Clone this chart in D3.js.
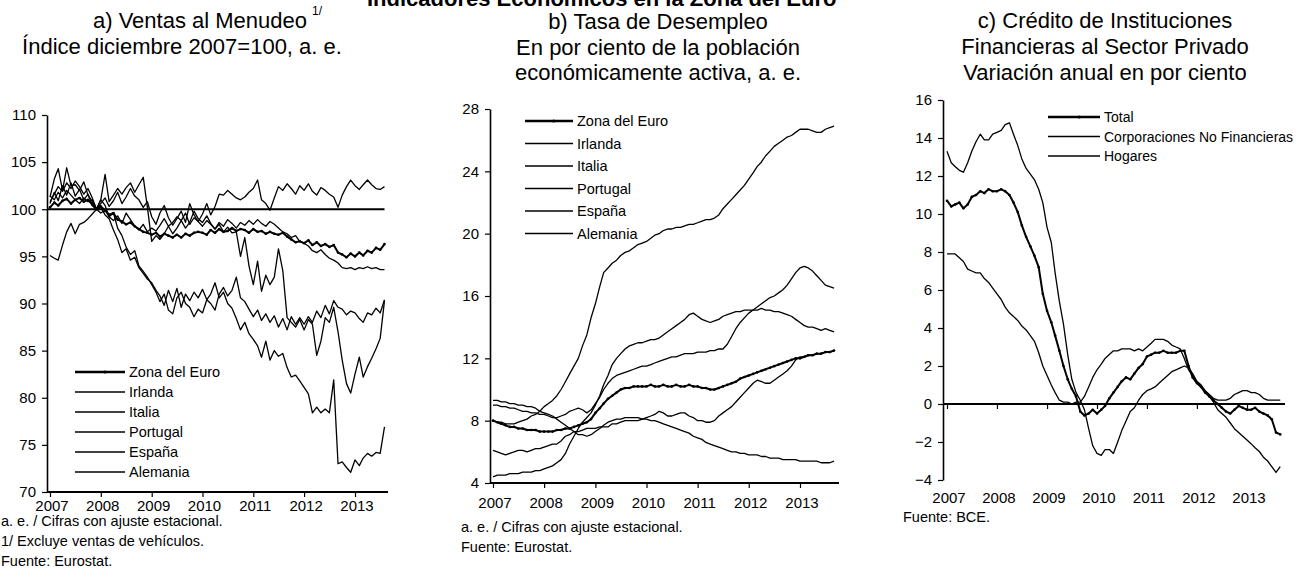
<!DOCTYPE html>
<html>
<head>
<meta charset="utf-8">
<script src="https://cdn.jsdelivr.net/npm/d3@7"></script>
<style>
  body { margin: 0; background: #fff; }
  svg text { font-family: "Liberation Sans", Arial, Helvetica, sans-serif; fill: #000; }
</style>
</head>
<body>
<svg id="chart" width="1309" height="577"></svg>
<script>
// monthly series, first value = January 2007
const years = [2007, 2008, 2009, 2010, 2011, 2012, 2013];

// a) Ventas al menudeo, indice dic 2007 = 100
const ventasNombres = ["Zona del Euro", "Irlanda", "Italia", "Portugal", "España", "Alemania"];
const ventasZonaEuro = [
  100.2, 100.7, 100.4, 100.9, 101.1, 100.6, 101.0, 101.2, 100.8, 101.0, 100.5, 100.0,
  100.3, 99.9, 99.4, 99.6, 98.9, 98.7, 98.4, 98.6, 98.2, 97.9, 97.6, 97.5,
  97.3, 97.5, 97.1, 97.4, 97.2, 97.0, 97.3, 97.0, 97.4, 97.2, 97.5, 97.6,
  97.5, 97.3, 97.8, 97.5, 97.9, 97.6, 97.7, 98.0, 97.7, 97.9, 97.8, 97.5,
  97.9, 97.6, 97.7, 97.4, 97.6, 97.4, 97.3, 97.5, 97.1, 96.8, 96.5, 96.6,
  96.4, 96.7, 96.2, 96.5, 96.1, 96.3, 96.0, 96.2, 95.4, 95.2, 94.9, 95.3,
  95.0, 95.4, 95.1, 95.6, 95.4, 95.9, 95.7, 96.3];
const ventasIrlanda = [
  101.3, 103.2, 104.3, 102.0, 104.4, 102.5, 102.6, 102.0, 102.9, 101.5, 100.8, 100.0,
  101.0, 100.4, 99.2, 99.6, 98.0, 97.2, 96.0, 95.2, 95.6, 94.0, 93.4, 92.8,
  92.0, 91.2, 90.2, 91.0, 89.3, 88.9, 90.6, 91.2, 90.0, 89.6, 88.6, 89.4,
  89.0, 90.4, 90.0, 89.3, 91.0, 91.7, 90.8, 91.4, 92.8, 90.6, 90.2, 89.4,
  88.6, 89.3, 88.2, 88.9, 88.0, 88.7, 87.5, 88.4, 87.2, 88.6, 87.8, 88.5,
  87.8, 88.6, 88.0, 89.2, 88.5, 89.8, 88.9, 90.3, 89.6, 89.4, 88.8, 89.2,
  89.0, 88.4, 88.0, 89.0, 88.8, 89.5, 89.0, 90.4];
const ventasItalia = [
  101.4, 101.0, 101.8, 101.2, 102.0, 101.5, 101.0, 100.6, 101.2, 100.8, 101.0, 100.0,
  99.6, 99.9, 99.2, 98.8, 99.3, 98.5, 99.6, 98.9, 98.2, 97.8, 98.4, 97.6,
  98.0, 97.7, 98.3, 99.0, 98.2, 98.6, 99.2, 98.8, 99.6, 98.4, 99.1, 98.7,
  98.2, 98.8, 98.4, 97.9, 98.6, 98.2, 98.9, 98.5, 98.0, 98.6, 98.3, 98.8,
  98.4, 98.9, 98.5, 98.2, 98.7, 98.4, 98.0, 97.6, 97.4, 97.0, 97.2, 96.6,
  96.4, 96.1, 95.6, 95.4, 95.7, 95.2, 94.8, 94.6, 94.3, 93.8, 93.7, 93.8,
  93.6, 93.8, 93.7, 93.9, 93.7, 93.8, 93.6, 93.6];
const ventasPortugal = [
  100.8, 101.6, 102.4, 101.9, 102.8, 102.2, 103.0, 102.4, 101.6, 102.2, 101.2, 100.0,
  101.0, 103.7, 100.8, 101.5, 102.2, 101.6, 102.3, 102.8, 101.8, 102.6, 103.4, 100.2,
  96.6, 97.2, 96.8, 97.4, 98.2, 97.4, 98.0, 98.8, 98.0, 98.6, 99.8, 99.0,
  98.6, 99.3, 98.5, 97.9, 98.4, 97.6, 98.1, 97.5, 97.6, 95.0, 97.0, 94.0,
  92.0, 94.5, 91.3, 93.0, 92.0, 92.8, 95.8, 93.5, 88.5, 88.0, 87.5, 88.3,
  87.2, 88.3, 87.8, 84.5, 86.0, 88.5, 88.0, 89.6, 87.0, 84.0, 81.5, 80.5,
  82.5, 84.3, 82.2, 83.3, 84.2, 85.2, 86.3, 90.3];
const ventasEspana = [
  100.6, 101.8, 100.9, 102.5, 101.5, 102.8, 101.4, 102.1, 101.0, 101.6, 100.4, 100.0,
  100.2, 99.4, 99.0, 97.8, 96.8, 95.4, 95.8, 94.6, 94.9, 93.8, 93.2, 92.6,
  92.2, 91.4, 90.8, 89.8, 91.4, 90.2, 91.6, 89.6, 91.0, 90.3, 91.2, 90.6,
  91.5, 90.4, 91.0, 92.2, 90.6, 91.2, 90.0, 89.5, 88.4, 87.2, 88.0, 86.8,
  86.2, 85.5, 84.3, 86.0, 84.0, 85.0, 84.4, 84.7, 83.2, 82.2, 82.4, 81.8,
  81.1, 80.4, 78.4, 79.0, 78.4, 78.8, 78.4, 81.9, 73.0, 73.2, 72.6, 72.1,
  73.4, 72.8, 73.6, 74.1, 73.8, 74.2, 74.1, 76.9];
const ventasAlemania = [
  95.1, 94.8, 94.6, 96.2, 97.6, 98.5, 97.4, 98.4, 98.6, 99.0, 99.5, 100.0,
  100.6, 101.2, 100.3, 100.9, 101.8, 100.6, 101.3, 102.2, 101.4, 101.0, 100.2, 100.8,
  99.2, 98.4, 99.6, 100.4, 99.1, 98.3, 99.0, 99.8, 98.6, 100.6, 99.4, 98.7,
  99.5, 100.6, 99.4, 100.3, 101.6, 101.5, 102.0, 101.6, 101.2, 101.0, 101.3, 101.8,
  102.2, 103.1, 101.0, 100.6, 99.9, 101.2, 102.4, 102.0, 102.7, 102.2, 101.6, 102.5,
  102.0, 102.7, 101.9, 101.5, 102.3, 102.0, 101.6, 101.3, 100.2, 101.5, 102.4, 103.1,
  102.5, 102.1, 102.6, 103.1, 102.6, 102.2, 102.1, 102.4];
const ventasTicks = [70, 75, 80, 85, 90, 95, 100, 105, 110];

// b) Tasa de desempleo, por ciento
const desempleoZonaEuro = [
  8.0, 7.9, 7.8, 7.7, 7.6, 7.6, 7.5, 7.5, 7.4, 7.4, 7.4, 7.3,
  7.3, 7.3, 7.3, 7.4, 7.4, 7.5, 7.5, 7.6, 7.7, 7.8, 7.9, 8.1,
  8.5, 8.8, 9.1, 9.4, 9.6, 9.8, 10.0, 10.1, 10.1, 10.2, 10.2, 10.2,
  10.2, 10.3, 10.2, 10.2, 10.3, 10.2, 10.2, 10.3, 10.2, 10.2, 10.3, 10.2,
  10.2, 10.1, 10.1, 10.0, 10.0, 10.1, 10.2, 10.3, 10.4, 10.5, 10.7, 10.8,
  10.9, 11.0, 11.1, 11.2, 11.3, 11.4, 11.5, 11.6, 11.7, 11.8, 11.9, 12.0,
  12.0, 12.1, 12.2, 12.2, 12.3, 12.3, 12.4, 12.4, 12.5];
const desempleoIrlanda = [
  4.4, 4.5, 4.5, 4.5, 4.6, 4.6, 4.6, 4.7, 4.7, 4.7, 4.8, 4.8,
  4.9, 5.0, 5.1, 5.3, 5.5, 5.9, 6.5, 7.0, 7.5, 7.9, 8.2, 8.5,
  9.0, 9.6, 10.3, 10.9, 11.6, 12.0, 12.3, 12.6, 12.8, 12.9, 13.0, 13.0,
  13.1, 13.2, 13.2, 13.3, 13.5, 13.7, 13.9, 14.1, 14.3, 14.5, 14.8, 14.9,
  14.7, 14.5, 14.4, 14.3, 14.4, 14.5, 14.7, 14.8, 14.9, 15.0, 15.0, 15.1,
  15.1, 15.1, 15.1, 15.2, 15.1, 15.1, 15.0, 15.0, 14.9, 14.8, 14.7, 14.5,
  14.3, 14.1, 14.0, 14.0, 13.9, 13.8, 13.9, 13.8, 13.7];
const desempleoItalia = [
  6.1, 6.0, 5.9, 5.8, 5.9, 6.0, 6.1, 6.1, 6.0, 6.1, 6.2, 6.2,
  6.3, 6.4, 6.5, 6.5, 6.7, 7.0, 7.1, 7.3, 7.3, 7.4, 7.5, 7.5,
  7.5, 7.6, 7.6, 7.6, 7.8, 7.8, 7.9, 8.0, 8.0, 8.0, 8.0, 8.1,
  8.2, 8.3, 8.4, 8.6, 8.5, 8.3, 8.3, 8.4, 8.5, 8.5, 8.3, 8.2,
  8.0, 8.0, 7.9, 7.9, 8.0, 8.3, 8.5, 8.7, 8.9, 9.2, 9.5, 9.8,
  10.1, 10.4, 10.6, 10.5, 10.4, 10.4, 10.6, 10.8, 11.0, 11.2, 11.5, 11.9,
  12.1, 12.1, 12.2, 12.2, 12.3, 12.3, 12.4, 12.4, 12.5];
const desempleoPortugal = [
  9.0, 9.0, 8.9, 8.9, 8.8, 8.8, 8.7, 8.6, 8.6, 8.5, 8.5, 8.4,
  8.4, 8.3, 8.2, 8.2, 8.3, 8.4, 8.6, 8.7, 8.8, 8.7, 8.5, 8.7,
  9.1, 9.5, 10.0, 10.4, 10.7, 10.9, 11.0, 11.1, 11.2, 11.3, 11.4, 11.5,
  11.5, 11.6, 11.7, 11.8, 11.9, 12.0, 12.1, 12.1, 12.2, 12.3, 12.3, 12.3,
  12.4, 12.4, 12.4, 12.5, 12.5, 12.6, 12.6, 12.9, 13.4, 13.9, 14.3, 14.6,
  14.9, 15.1, 15.3, 15.5, 15.7, 15.9, 16.0, 16.2, 16.4, 16.7, 17.1, 17.5,
  17.8, 17.9, 17.8, 17.6, 17.3, 17.0, 16.7, 16.6, 16.5];
const desempleoEspana = [
  8.0, 7.9, 7.9, 7.8, 7.8, 7.8, 7.9, 8.0, 8.1, 8.3, 8.4, 8.6,
  8.9, 9.1, 9.3, 9.6, 10.0, 10.5, 11.0, 11.5, 12.0, 12.8, 13.5, 14.6,
  15.5, 16.6, 17.5, 17.8, 18.1, 18.3, 18.6, 18.8, 18.9, 19.1, 19.3, 19.4,
  19.5, 19.7, 19.9, 20.0, 20.2, 20.3, 20.3, 20.4, 20.4, 20.5, 20.6, 20.6,
  20.7, 20.8, 20.9, 20.9, 21.0, 21.2, 21.6, 21.9, 22.2, 22.5, 22.8, 23.1,
  23.5, 23.9, 24.3, 24.6, 25.0, 25.3, 25.6, 25.8, 26.0, 26.2, 26.3, 26.5,
  26.7, 26.7, 26.7, 26.6, 26.5, 26.5, 26.7, 26.8, 26.9];
const desempleoAlemania = [
  9.3, 9.3, 9.2, 9.2, 9.1, 9.1, 9.0, 9.0, 8.9, 8.9, 8.8, 8.6,
  8.5, 8.4, 8.3, 8.1, 7.9, 7.7, 7.5, 7.3, 7.1, 7.1, 7.0, 7.1,
  7.3, 7.5, 7.7, 7.9, 8.0, 8.1, 8.1, 8.2, 8.2, 8.2, 8.2, 8.1,
  8.1, 8.0, 8.0, 7.9, 7.8, 7.7, 7.6, 7.5, 7.4, 7.3, 7.2, 7.0,
  6.9, 6.8, 6.6, 6.5, 6.4, 6.3, 6.2, 6.1, 6.0, 6.0, 5.9, 5.9,
  5.8, 5.8, 5.8, 5.7, 5.7, 5.6, 5.6, 5.6, 5.5, 5.5, 5.5, 5.5,
  5.4, 5.4, 5.4, 5.4, 5.4, 5.3, 5.3, 5.3, 5.4];
const desempleoTicks = [4, 8, 12, 16, 20, 24, 28];

// c) Credito al sector privado, variacion anual en por ciento
const creditoNombres = ["Total", "Corporaciones No Financieras", "Hogares"];
const creditoTotal = [
  10.7, 10.4, 10.5, 10.6, 10.3, 10.5, 10.9, 11.0, 11.2, 11.1, 11.3, 11.2,
  11.2, 11.3, 11.2, 11.0, 10.6, 10.1, 9.4, 8.8, 8.3, 7.8, 7.2, 5.8,
  4.9, 4.3, 3.6, 2.8, 2.0, 1.3, 0.8, 0.4, -0.4, -0.6, -0.5, -0.3,
  -0.5, -0.3, -0.1, 0.3, 0.6, 0.9, 1.2, 1.4, 1.3, 1.6, 1.9, 2.1,
  2.5, 2.6, 2.7, 2.7, 2.8, 2.7, 2.7, 2.7, 2.8, 2.8, 2.0, 1.4,
  1.1, 0.9, 0.6, 0.4, 0.2, 0.0, -0.2, -0.4, -0.5, -0.3, -0.1, -0.2,
  -0.3, -0.3, -0.2, -0.4, -0.5, -0.6, -0.8, -1.5, -1.6];
const creditoCorporaciones = [
  13.3, 12.7, 12.5, 12.3, 12.2, 12.7, 13.3, 13.8, 14.2, 13.9, 13.9, 14.2,
  14.3, 14.4, 14.7, 14.8, 14.2, 13.6, 12.9, 12.4, 12.1, 11.8, 11.3, 10.6,
  9.3, 8.5, 6.9, 5.4, 4.2, 2.6, 1.3, 0.6, 0.2, -0.3, -1.3, -2.2,
  -2.6, -2.7, -2.4, -2.4, -2.6, -2.0, -1.4, -0.9, -0.4, -0.2, 0.2, 0.5,
  0.7, 0.8, 0.9, 1.1, 1.3, 1.5, 1.7, 1.8, 1.9, 2.0, 1.9, 1.6,
  1.2, 1.0, 0.7, 0.4, 0.1, -0.3, -0.5, -0.7, -1.0, -1.3, -1.5, -1.7,
  -1.9, -2.1, -2.3, -2.5, -2.8, -3.0, -3.3, -3.6, -3.3];
const creditoHogares = [
  7.9, 7.9, 7.9, 7.7, 7.5, 7.1, 7.0, 6.9, 6.9, 6.6, 6.4, 6.1,
  5.8, 5.5, 5.1, 4.8, 4.6, 4.4, 4.1, 3.9, 3.6, 3.3, 2.7, 2.0,
  1.5, 1.0, 0.6, 0.2, 0.1, 0.1, 0.0, 0.1, 0.1, 0.4, 0.9, 1.4,
  1.8, 2.1, 2.4, 2.6, 2.8, 2.8, 2.9, 2.9, 2.9, 2.8, 2.9, 2.8,
  3.0, 3.2, 3.4, 3.4, 3.4, 3.3, 3.1, 3.0, 2.9, 2.4, 1.8, 1.5,
  1.1, 0.9, 0.7, 0.5, 0.3, 0.2, 0.2, 0.2, 0.3, 0.5, 0.6, 0.7,
  0.7, 0.6, 0.6, 0.5, 0.3, 0.2, 0.2, 0.2, 0.2];
const creditoTicks = [-4, -2, 0, 2, 4, 6, 8, 10, 12, 14, 16];

const svg = d3.select("#chart");
const start = new Date(2007, 0, 1);
const monthDate = i => d3.timeMonth.offset(start, i);

function drawPanel(p) {
  const x = d3.scaleTime().domain([start, new Date(2013, 0, 1)]).range([p.x0, p.x1]);
  const y = d3.scaleLinear().domain(p.yDomain).range(p.yRange);
  const g = svg.append("g");

  // y axis
  const ya = g.append("g")
    .attr("transform", `translate(${p.axisX},0)`)
    .call(d3.axisLeft(y).tickValues(p.yTicks).tickSize(5).tickSizeOuter(0).tickPadding(6));
  ya.select(".domain").attr("stroke", "#000").attr("stroke-width", 1.6);
  ya.selectAll(".tick line").attr("stroke", "#000").attr("stroke-width", 1.2);
  ya.selectAll(".tick text").attr("font-size", 15).attr("font-family", null);

  // x axis (ticks on the axis line, year labels at the bottom)
  const axisY = y(p.xAxisAt);
  const xa = g.append("g")
    .attr("transform", `translate(0,${axisY})`)
    .call(d3.axisBottom(x).tickValues(years.map(d => new Date(d, 0, 1))).tickSize(5).tickFormat(""));
  xa.select(".domain").remove();
  xa.selectAll(".tick line").attr("stroke", "#000").attr("stroke-width", 1.2);
  g.append("line")
    .attr("x1", p.axisX).attr("x2", p.axisEnd)
    .attr("y1", axisY).attr("y2", axisY)
    .attr("stroke", "#000").attr("stroke-width", 1.8);
  g.selectAll("text.yr").data(years).join("text")
    .attr("class", "yr")
    .attr("x", d => x(new Date(d, 0, 1)) + 2)
    .attr("y", p.yearLabelY)
    .attr("text-anchor", "middle")
    .attr("font-size", 15)
    .text(d => d);

  if (p.refLine !== undefined) {
    g.append("line")
      .attr("x1", p.axisX).attr("x2", x(monthDate(p.series[0].values.length - 1)))
      .attr("y1", y(p.refLine)).attr("y2", y(p.refLine))
      .attr("stroke", "#000").attr("stroke-width", 2.2);
  }

  const line = d3.line().x((d, i) => x(monthDate(i))).y(d => y(d));
  p.series.forEach(s => {
    g.append("path")
      .datum(s.values)
      .attr("d", line)
      .attr("fill", "none")
      .attr("stroke", "#000")
      .attr("stroke-width", s.width)
      .attr("stroke-linejoin", "round");
    if (s.marker) {
      g.selectAll(null).data(s.values).join("circle")
        .attr("cx", (d, i) => x(monthDate(i)))
        .attr("cy", d => y(d))
        .attr("r", 1.3)
        .attr("fill", "#000");
    }
  });

  // legend
  const lg = g.append("g");
  p.series.forEach((s, i) => {
    const ly = p.legend.y + i * p.legend.step;
    lg.append("line")
      .attr("x1", p.legend.x).attr("x2", p.legend.x + p.legend.len)
      .attr("y1", ly).attr("y2", ly)
      .attr("stroke", "#000").attr("stroke-width", s.width + 0.3);
    if (s.marker) {
      lg.append("circle").attr("cx", p.legend.x + p.legend.len * 0.6).attr("cy", ly).attr("r", 1.6);
    }
    lg.append("text")
      .attr("x", p.legend.x + p.legend.len + 4)
      .attr("y", ly + 5)
      .attr("font-size", p.legend.size)
      .text(s.name);
  });

  // titles and notes
  const titleNodes = p.titles.map(t => g.append("text")
    .attr("x", t.x).attr("y", t.y)
    .attr("text-anchor", "middle")
    .attr("font-size", 22)
    .text(t.text));
  p.notes.forEach((t, i) => {
    g.append("text")
      .attr("x", p.notesX).attr("y", p.notesY + i * 20)
      .attr("font-size", 14.5)
      .text(t);
  });
  return titleNodes;
}

// overall title, cut off at the top of the page
svg.append("clipPath").attr("id", "cut")
  .append("rect").attr("x", 0).attr("y", 0).attr("width", 886).attr("height", 12);
svg.append("text")
  .attr("clip-path", "url(#cut)")
  .attr("x", 367).attr("y", 6)
  .attr("font-size", 22).attr("font-weight", "bold")
  .text("Indicadores Económicos en la Zona del Euro");

const titlesA = drawPanel({
  x0: 50, x1: 355, axisX: 47, axisEnd: 388,
  yDomain: [70, 110], yRange: [492, 115], yTicks: ventasTicks,
  xAxisAt: 70, yearLabelY: 511, refLine: 100,
  series: [
    { name: ventasNombres[0], values: ventasZonaEuro, width: 2, marker: true },
    { name: ventasNombres[1], values: ventasIrlanda, width: 1.3 },
    { name: ventasNombres[2], values: ventasItalia, width: 1.3 },
    { name: ventasNombres[3], values: ventasPortugal, width: 1.3 },
    { name: ventasNombres[4], values: ventasEspana, width: 1.3 },
    { name: ventasNombres[5], values: ventasAlemania, width: 1.3 }
  ],
  legend: { x: 75, y: 372, step: 20, len: 50, size: 14.5 },
  titles: [
    { x: 200, y: 28, text: "a) Ventas al Menudeo" },
    { x: 182, y: 54, text: "Índice diciembre 2007=100, a. e." }
  ],
  notes: ["a. e. / Cifras con ajuste estacional.", "1/ Excluye ventas de vehículos.", "Fuente:  Eurostat."],
  notesX: 1, notesY: 526
});
// superscript note mark right after the first title line
const l1 = titlesA[0].node().getBBox();
svg.append("text")
  .attr("x", l1.x + l1.width + 5).attr("y", 15)
  .attr("font-size", 12).text("1/");

drawPanel({
  x0: 493, x1: 800, axisX: 490, axisEnd: 839,
  yDomain: [4, 28], yRange: [483, 109], yTicks: desempleoTicks,
  xAxisAt: 4, yearLabelY: 508,
  series: [
    { name: ventasNombres[0], values: desempleoZonaEuro, width: 2, marker: true },
    { name: ventasNombres[1], values: desempleoIrlanda, width: 1.3 },
    { name: ventasNombres[2], values: desempleoItalia, width: 1.3 },
    { name: ventasNombres[3], values: desempleoPortugal, width: 1.3 },
    { name: ventasNombres[4], values: desempleoEspana, width: 1.3 },
    { name: ventasNombres[5], values: desempleoAlemania, width: 1.3 }
  ],
  legend: { x: 525, y: 121, step: 22.5, len: 48, size: 14.5 },
  titles: [
    { x: 658, y: 29, text: "b) Tasa de Desempleo" },
    { x: 658, y: 55, text: "En por ciento de la población" },
    { x: 658, y: 80, text: "económicamente activa, a. e." }
  ],
  notes: ["a. e. / Cifras con ajuste estacional.", "Fuente: Eurostat."],
  notesX: 461, notesY: 532
});

drawPanel({
  x0: 947, x1: 1247, axisX: 943, axisEnd: 1285,
  yDomain: [-4, 16], yRange: [480, 100], yTicks: creditoTicks,
  xAxisAt: 0, yearLabelY: 503,
  series: [
    { name: creditoNombres[0], values: creditoTotal, width: 2, marker: true },
    { name: creditoNombres[1], values: creditoCorporaciones, width: 1.3 },
    { name: creditoNombres[2], values: creditoHogares, width: 1.3 }
  ],
  legend: { x: 1048, y: 117, step: 19.5, len: 52, size: 14 },
  titles: [
    { x: 1105, y: 28, text: "c) Crédito de Instituciones" },
    { x: 1105, y: 54, text: "Financieras al Sector Privado" },
    { x: 1105, y: 80, text: "Variación anual en por ciento" }
  ],
  notes: ["Fuente: BCE."],
  notesX: 903, notesY: 522
});
</script>
</body>
</html>
